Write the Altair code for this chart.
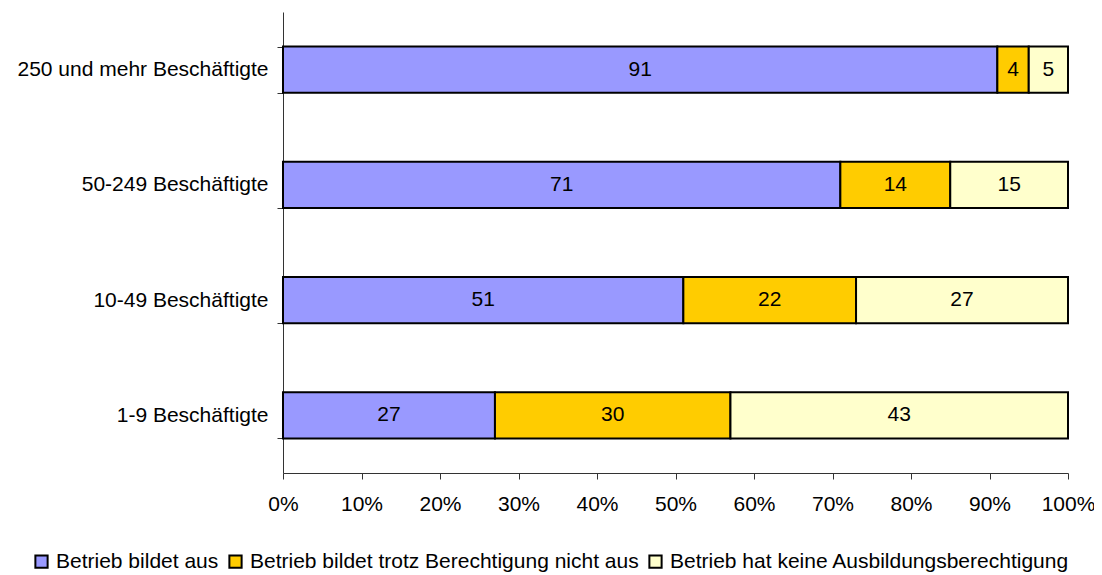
import altair as alt
import pandas as pd

categories = ["250 und mehr Beschäftigte", "50-249 Beschäftigte", "10-49 Beschäftigte", "1-9 Beschäftigte"]
series = ["Betrieb bildet aus", "Betrieb bildet trotz Berechtigung nicht aus", "Betrieb hat keine Ausbildungsberechtigung"]
colors = ["#9999FF", "#FFCC00", "#FFFFCC"]
bildet_aus = [91, 71, 51, 27]
bildet_nicht = [4, 14, 22, 30]
keine_berechtigung = [5, 15, 27, 43]

rows = []
for i, c in enumerate(categories):
    for j, (s, vals) in enumerate(zip(series, [bildet_aus, bildet_nicht, keine_berechtigung])):
        rows.append({"cat": c, "series": s, "order": j, "value": vals[i]})
df = pd.DataFrame(rows)

FONT = "Liberation Sans"
FS = 21

base = alt.Chart(df).transform_stack(
    stack="value", groupby=["cat"], as_=["v0", "v1"], sort=[alt.SortField("order")]
).transform_calculate(
    p0="datum.v0/100", p1="datum.v1/100", mid="(datum.v0+datum.v1)/200"
)

y_enc = alt.Y("cat:N", sort=categories, title=None,
              scale=alt.Scale(paddingInner=0.6, paddingOuter=0.3),
              axis=alt.Axis(tickBand="extent", labelFont=FONT, labelFontSize=FS,
                            labelColor="#000", labelPadding=9, tickSize=6,
                            domainColor="#333", tickColor="#333", labelLimit=400))

bars = base.mark_bar(stroke="#000", strokeWidth=2).encode(
    x=alt.X("p0:Q", title=None,
            scale=alt.Scale(domain=[0, 1], nice=False),
            axis=alt.Axis(format="%", values=[i / 10 for i in range(11)], grid=False,
                          labelFont=FONT, labelFontSize=FS, labelColor="#000",
                          labelFlush=False, labelOverlap=False,
                          labelPadding=14, tickSize=6, domainColor="#333", tickColor="#333")),
    x2="p1:Q",
    y=y_enc,
    color=alt.Color("series:N", sort=series,
                    scale=alt.Scale(domain=series, range=colors),
                    legend=alt.Legend(title=None, orient="none", direction="horizontal",
                                      legendX=-252, legendY=539, columns=3,
                                      symbolType="square", symbolSize=150,
                                      symbolStrokeColor="#000", symbolStrokeWidth=2,
                                      labelFont=FONT, labelFontSize=FS, labelColor="#000",
                                      labelOffset=4, columnPadding=6, labelLimit=600)),
)

labels = base.mark_text(font=FONT, fontSize=FS, color="#000").encode(
    x=alt.X("mid:Q"),
    y=alt.Y("cat:N", sort=categories),
    text=alt.Text("value:Q"),
)

chart = (bars + labels).properties(
    width=785, height=461,
    padding={"left": 275, "top": 4, "right": 26, "bottom": 102},
    autosize=alt.AutoSizeParams(type="none"),
).configure_view(stroke=None)

chart.save("out.html", embed_options={"renderer": "svg", "actions": False})
